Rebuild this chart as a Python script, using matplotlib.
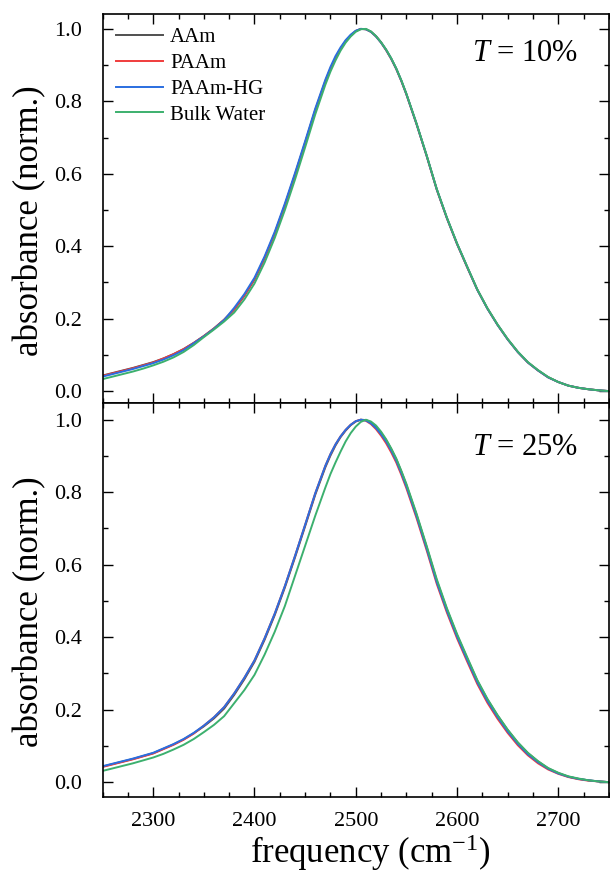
import numpy as np
import matplotlib
matplotlib.use('Agg')
import matplotlib.pyplot as plt
from matplotlib.ticker import MultipleLocator

plt.rcParams['font.family'] = ['Liberation Serif', 'DejaVu Serif']
plt.rcParams['mathtext.fontset'] = 'custom'
plt.rcParams['mathtext.rm'] = 'Liberation Serif'
plt.rcParams['mathtext.it'] = 'Liberation Serif:italic'

# finer sampling around the band maximum
freq = list(range(2250, 2470, 10)) + list(range(2470, 2550, 5)) + list(range(2550, 2760, 10))

# T = 10 %
aam10 = [0.043, 0.050, 0.057, 0.064, 0.072, 0.080, 0.090, 0.102, 0.116, 0.133, 0.152,
         0.173, 0.197, 0.225, 0.263, 0.308, 0.367, 0.435, 0.513, 0.597, 0.685, 0.775,
         0.855, 0.890, 0.920, 0.945, 0.966, 0.982, 0.994, 1.000, 0.999, 0.992, 0.980,
         0.963, 0.942, 0.918, 0.890, 0.857,
         0.820, 0.738, 0.650, 0.557, 0.478, 0.407, 0.343, 0.280, 0.228, 0.183, 0.143,
         0.108, 0.079, 0.057, 0.038, 0.025, 0.015, 0.009, 0.005, 0.002, 0.000]
paam10 = [0.042, 0.049, 0.056, 0.063, 0.071, 0.079, 0.090, 0.102, 0.116, 0.133, 0.152,
          0.173, 0.197, 0.226, 0.264, 0.309, 0.368, 0.436, 0.514, 0.598, 0.686, 0.776,
          0.856, 0.890, 0.920, 0.945, 0.966, 0.982, 0.994, 1.000, 0.999, 0.992, 0.979,
          0.962, 0.941, 0.917, 0.889, 0.856,
          0.819, 0.737, 0.649, 0.556, 0.477, 0.406, 0.342, 0.280, 0.228, 0.183, 0.143,
          0.108, 0.079, 0.057, 0.038, 0.025, 0.015, 0.009, 0.005, 0.002, 0.000]
hg10 = [0.040, 0.047, 0.054, 0.061, 0.069, 0.077, 0.087, 0.099, 0.113, 0.132, 0.151,
        0.172, 0.196, 0.230, 0.268, 0.313, 0.372, 0.440, 0.518, 0.602, 0.690, 0.780,
        0.860, 0.895, 0.925, 0.949, 0.969, 0.984, 0.995, 1.000, 0.999, 0.992, 0.979,
        0.962, 0.942, 0.918, 0.890, 0.857,
        0.820, 0.738, 0.650, 0.557, 0.478, 0.407, 0.343, 0.280, 0.228, 0.183, 0.143,
        0.108, 0.079, 0.057, 0.038, 0.025, 0.015, 0.009, 0.005, 0.002, 0.000]
bulk10 = [0.033, 0.040, 0.047, 0.054, 0.062, 0.071, 0.081, 0.093, 0.108, 0.127, 0.149,
          0.170, 0.192, 0.217, 0.253, 0.297, 0.355, 0.423, 0.500, 0.584, 0.673, 0.764,
          0.846, 0.882, 0.913, 0.940, 0.962, 0.979, 0.992, 0.999, 1.000, 0.993, 0.980,
          0.963, 0.943, 0.919, 0.891, 0.858,
          0.821, 0.739, 0.651, 0.558, 0.479, 0.408, 0.344, 0.281, 0.229, 0.184, 0.144,
          0.109, 0.080, 0.058, 0.039, 0.025, 0.015, 0.009, 0.005, 0.002, 0.000]

# T = 25 %
aam25 = [0.043, 0.050, 0.057, 0.064, 0.072, 0.080, 0.092, 0.104, 0.118, 0.135, 0.154,
         0.176, 0.203, 0.241, 0.284, 0.332, 0.393, 0.461, 0.537, 0.620, 0.706, 0.793,
         0.869, 0.901, 0.929, 0.952, 0.970, 0.985, 0.995, 1.000, 0.999, 0.993, 0.981,
         0.964, 0.944, 0.919, 0.891, 0.857,
         0.820, 0.738, 0.649, 0.556, 0.477, 0.406, 0.342, 0.280, 0.228, 0.184, 0.144,
         0.109, 0.080, 0.057, 0.038, 0.025, 0.015, 0.009, 0.005, 0.002, 0.000]
paam25 = [0.042, 0.049, 0.056, 0.063, 0.071, 0.079, 0.091, 0.103, 0.117, 0.134, 0.156,
          0.179, 0.207, 0.245, 0.288, 0.336, 0.397, 0.465, 0.541, 0.624, 0.710, 0.797,
          0.873, 0.905, 0.932, 0.954, 0.972, 0.986, 0.996, 1.000, 0.997, 0.988, 0.974,
          0.956, 0.935, 0.910, 0.882, 0.848,
          0.811, 0.729, 0.640, 0.547, 0.468, 0.397, 0.333, 0.271, 0.219, 0.175, 0.136,
          0.102, 0.074, 0.052, 0.035, 0.023, 0.014, 0.008, 0.004, 0.002, 0.000]
hg25 = [0.044, 0.051, 0.058, 0.065, 0.073, 0.081, 0.093, 0.105, 0.119, 0.136, 0.156,
        0.179, 0.207, 0.245, 0.288, 0.336, 0.397, 0.465, 0.541, 0.624, 0.710, 0.797,
        0.873, 0.905, 0.932, 0.954, 0.972, 0.986, 0.996, 1.000, 0.998, 0.990, 0.977,
        0.960, 0.940, 0.915, 0.887, 0.853,
        0.816, 0.734, 0.645, 0.552, 0.473, 0.402, 0.338, 0.276, 0.224, 0.180, 0.140,
        0.106, 0.077, 0.055, 0.037, 0.024, 0.015, 0.009, 0.005, 0.002, 0.000]
bulk25 = [0.031, 0.038, 0.045, 0.052, 0.060, 0.068, 0.078, 0.090, 0.103, 0.119, 0.138,
          0.158, 0.182, 0.218, 0.254, 0.296, 0.352, 0.415, 0.486, 0.569, 0.652, 0.735,
          0.813, 0.850, 0.882, 0.912, 0.940, 0.963, 0.981, 0.994, 1.000, 0.995, 0.984,
          0.967, 0.946, 0.921, 0.893, 0.859,
          0.823, 0.741, 0.652, 0.560, 0.480, 0.409, 0.345, 0.282, 0.230, 0.185, 0.145,
          0.110, 0.081, 0.058, 0.039, 0.026, 0.016, 0.010, 0.005, 0.002, 0.000]

labels = ['AAm', 'PAAm', 'PAAm-HG', 'Bulk Water']
colors = ['#505050', '#f03c3c', '#2a6ee0', '#3cb06e']

panels = [
    ([aam10, paam10, hg10, bulk10], r'$T$ = 10%', (-0.033, 1.041), 0.898),
    ([aam25, paam25, hg25, bulk25], r'$T$ = 25%', (-0.041, 1.046), 0.888),
]

fig = plt.figure(figsize=(6.1, 8.72), dpi=100)
ax1 = fig.add_axes([0.1682, 0.5378, 0.830, 0.4461])
ax2 = fig.add_axes([0.1682, 0.0860, 0.830, 0.4518], sharex=ax1)

for ax, (series, tag, ylim, ty) in zip([ax1, ax2], panels):
    for vals, lab, col in zip(series, labels, colors):
        ax.plot(freq, vals, color=col, lw=1.4, label=lab)
    ax.set_xlim(2250, 2750)
    ax.set_ylim(*ylim)
    ax.xaxis.set_major_locator(MultipleLocator(100))
    ax.xaxis.set_minor_locator(MultipleLocator(25))
    ax.yaxis.set_major_locator(MultipleLocator(0.2))
    ax.yaxis.set_minor_locator(MultipleLocator(0.1))
    ax.tick_params(which='both', direction='in', top=True, right=True,
                   labelsize=16, width=1.0)
    ax.tick_params(which='major', length=7)
    ax.tick_params(which='minor', length=3.5)
    ax.tick_params(axis='y', pad=15)
    ax.tick_params(axis='x', pad=11)
    for sp in ax.spines.values():
        sp.set_linewidth(1.2)
    ax.set_ylabel('absorbance (norm.)', fontsize=25)
    ax.yaxis.set_label_coords(-0.112, 0.47)
    ax.text(0.94, ty, tag, transform=ax.transAxes,
            ha='right', va='center', fontsize=22)

ax1.tick_params(labelbottom=False)
ax1.legend(loc='upper left', frameon=False, fontsize=15, handlelength=2.26,
           handletextpad=0.33, labelspacing=0.3, borderaxespad=0.25)
ax2.set_xlabel('frequency (cm$^{-1}$)', fontsize=25, labelpad=1, x=0.528)

fig.savefig('out.png', dpi=100)
